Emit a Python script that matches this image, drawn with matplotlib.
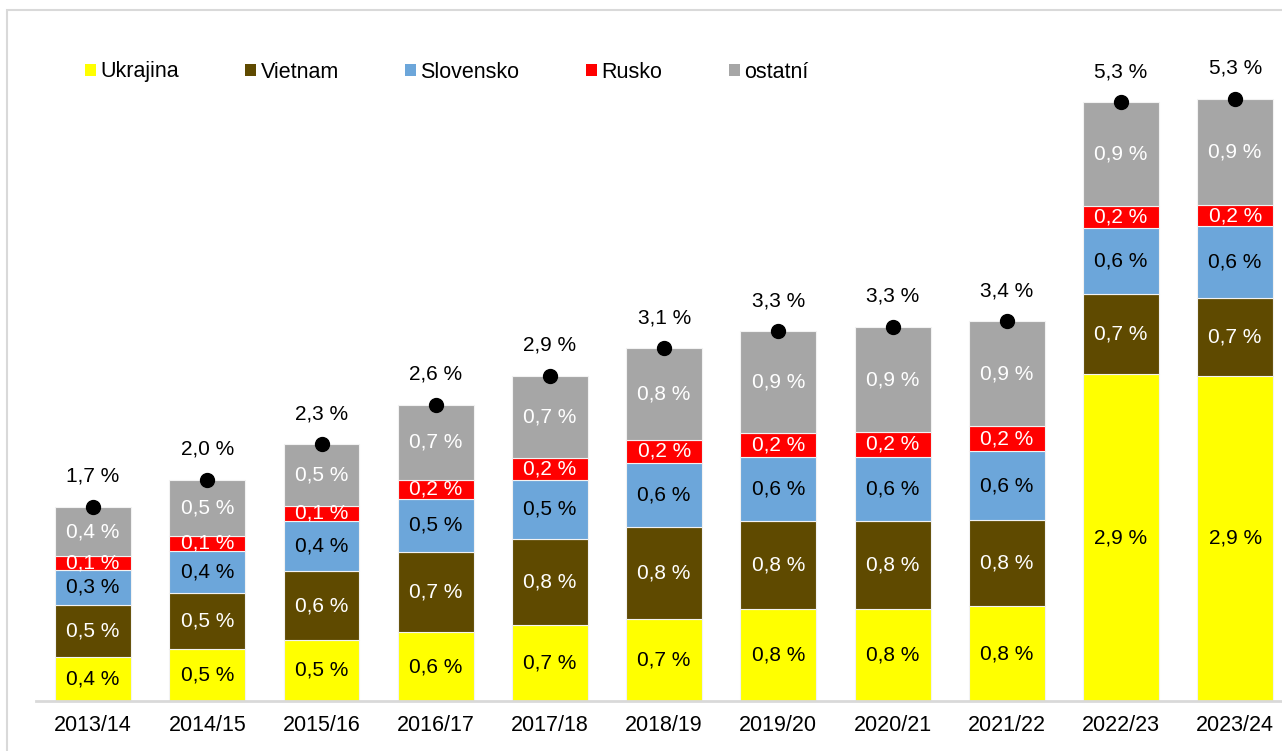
import matplotlib
matplotlib.use("Agg")
import matplotlib.pyplot as plt
from matplotlib.patches import Rectangle
import numpy as np

plt.rcParams['font.family'] = ['Liberation Sans', 'DejaVu Sans']

years = ["2013/14", "2014/15", "2015/16", "2016/17", "2017/18", "2018/19",
         "2019/20", "2020/21", "2021/22", "2022/23", "2023/24"]
ukrajina = [0.39, 0.46, 0.54, 0.61, 0.67, 0.73, 0.81, 0.81, 0.84, 2.89, 2.88]
vietnam = [0.46, 0.50, 0.61, 0.71, 0.76, 0.81, 0.78, 0.78, 0.76, 0.71, 0.69]
slovensko = [0.31, 0.37, 0.44, 0.47, 0.53, 0.57, 0.57, 0.57, 0.61, 0.59, 0.63]
rusko = [0.12, 0.13, 0.14, 0.17, 0.19, 0.20, 0.21, 0.22, 0.22, 0.19, 0.19]
ostatni = [0.44, 0.50, 0.54, 0.66, 0.73, 0.81, 0.90, 0.93, 0.93, 0.92, 0.94]

series = [
    ("Ukrajina", ukrajina, "#FFFF00", "black"),
    ("Vietnam", vietnam, "#5F4A00", "white"),
    ("Slovensko", slovensko, "#6CA6DA", "black"),
    ("Rusko", rusko, "#FF0000", "white"),
    ("ostatní", ostatni, "#A6A6A6", "white"),
]

def fmt(v):
    return f"{v:.1f}".replace(".", ",") + " %"

W, H = 1282, 751
fig = plt.figure(figsize=(W / 100, H / 100), dpi=100)
fig.patches.append(Rectangle((7 / W, -0.1), 1.2, 1 - 10 / H + 0.1,
                             transform=fig.transFigure, fill=False,
                             edgecolor="#D9D9D9", linewidth=1.5))

ax = fig.add_axes([36 / W, 50 / H, 1246 / W, 701 / H])
x = np.arange(len(years))
bottom = np.zeros(len(years))
for name, vals, col, tcol in series:
    vals = np.array(vals)
    ax.bar(x, vals, bottom=bottom, width=0.665, color=col, label=name,
           edgecolor="#F2F2F2", linewidth=0.8)
    for xi, b, v in zip(x, bottom, vals):
        ax.text(xi, b + v / 2, fmt(v), ha="center", va="center",
                fontsize=15, color=tcol)
    bottom = bottom + vals

ax.plot(x, bottom, "o", color="black", markersize=10, zorder=5)
for xi, t in zip(x, bottom):
    ax.text(xi, t + 0.27, fmt(t), ha="center", va="center", fontsize=15,
            color="black")

ax.set_xlim(-0.5, 10.41)
ax.set_ylim(0, 701 / 113.0)
ax.set_xticks(x)
ax.set_xticklabels(years, fontsize=15.5)
ax.tick_params(axis="x", length=0, pad=10)
ax.set_yticks([])
for s in ["top", "right", "left"]:
    ax.spines[s].set_visible(False)
ax.spines["bottom"].set_color("#D9D9D9")
ax.spines["bottom"].set_linewidth(2)

leg = ax.legend(loc="center left", bbox_to_anchor=(85 / W, 1 - 72 / H),
                bbox_transform=fig.transFigure,
                ncol=5, frameon=False, fontsize=15.5, handlelength=0.5,
                handleheight=0.5, handletextpad=0.2, columnspacing=3.1,
                borderaxespad=0, borderpad=0)
for h in leg.legend_handles:
    h.set_edgecolor("none")

fig.savefig("out.png", dpi=100)
